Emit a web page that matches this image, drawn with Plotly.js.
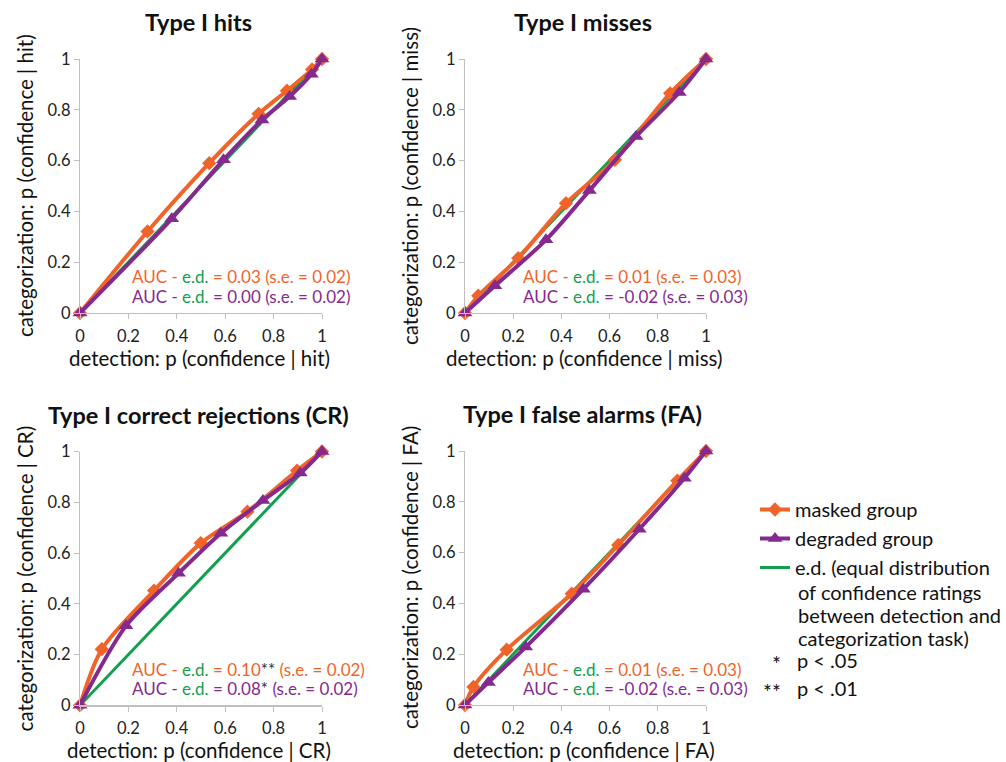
<!DOCTYPE html>
<html><head><meta charset="utf-8">
<script src="https://cdn.plot.ly/plotly-3.0.1.min.js"></script>
<style>body{margin:0;background:#fff}#chart{width:1006px;height:762px}</style>
</head><body><div id="chart"></div>
<script>
// ---- data ----
const hitsMaskedX = [0, 0.279, 0.534, 0.738, 0.855, 0.959, 1];
const hitsMaskedY = [0, 0.321, 0.590, 0.784, 0.875, 0.959, 1];
const hitsDegrX   = [0, 0.379, 0.593, 0.752, 0.866, 0.956, 1];
const hitsDegrY   = [0, 0.371, 0.603, 0.760, 0.852, 0.940, 1];

const missMaskedX = [0, 0.055, 0.221, 0.419, 0.622, 0.851, 1];
const missMaskedY = [0, 0.068, 0.216, 0.432, 0.603, 0.865, 1];
const missDegrX   = [0, 0.124, 0.336, 0.516, 0.710, 0.889, 1];
const missDegrY   = [0, 0.107, 0.288, 0.482, 0.695, 0.868, 1];

const crMaskedX = [0, 0.090, 0.306, 0.499, 0.692, 0.897, 1];
const crMaskedY = [0, 0.221, 0.452, 0.639, 0.763, 0.925, 1];
const crDegrX   = [0, 0.190, 0.407, 0.582, 0.756, 0.910, 1];
const crDegrY   = [0, 0.313, 0.520, 0.678, 0.807, 0.915, 1];

const faMaskedX = [0, 0.035, 0.173, 0.443, 0.636, 0.881, 1];
const faMaskedY = [0, 0.071, 0.218, 0.438, 0.630, 0.883, 1];
const faDegrX   = [0, 0.097, 0.252, 0.491, 0.723, 0.910, 1];
const faDegrY   = [0, 0.089, 0.228, 0.456, 0.692, 0.893, 1];

const edX = [0, 1];
const edY = [0, 1];

const panelTitles = ["Type I hits", "Type I misses", "Type I correct rejections (CR)", "Type I false alarms (FA)"];
const panelKeys = ["hit", "miss", "CR", "FA"];
const aucMasked = ["0.03", "0.01", "0.10**", "0.01"];
const aucDegr   = ["0.00", "-0.02", "0.08*", "-0.02"];
const seMasked  = ["0.02", "0.03", "0.02", "0.03"];
const seDegr    = ["0.02", "0.03", "0.02", "0.03"];
const tickVals = [0, 0.2, 0.4, 0.6, 0.8, 1];
const tickText = ["0", "0.2", "0.4", "0.6", "0.8", "1"];
const legendNames = ["masked group", "degraded group", "e.d. (equal distribution"];
const legendExtraLines = ["of confidence ratings", "between detection and", "categorization task)"];
const sigStars = ["*", "**"];
const sigLabels = ["p < .05", "p < .01"];

// ---- style ----
const ORANGE = "#F0642A", PURPLE = "#85298F", GREEN = "#12A04E";
const FONT = "Lato, 'Open Sans', sans-serif";
const W = 1006, H = 762;
const AX_FS = 20.5, TICK_FS = 16.5, AUC_FS = 17, TITLE_FS = 23.5, LEG_FS = 20;

const series = [
  [hitsMaskedX, hitsMaskedY, hitsDegrX, hitsDegrY],
  [missMaskedX, missMaskedY, missDegrX, missDegrY],
  [crMaskedX, crMaskedY, crDegrX, crDegrY],
  [faMaskedX, faMaskedY, faDegrX, faDegrY]
];
// panel pixel boxes [left, right, top, bottom]
const boxes = [[80, 322, 59, 313], [465, 706, 59, 313], [80, 322, 451.5, 705.3], [465, 706, 451, 705]];

const traces = [];
const layout = {
  width: W, height: H,
  margin: {l: 0, r: 0, t: 0, b: 0},
  paper_bgcolor: "#fff", plot_bgcolor: "#fff",
  font: {family: FONT, size: 15, color: "#222"},
  showlegend: true,
  legend: {
    x: 755 / W, y: 1 - 490 / H, xanchor: "left", yanchor: "top",
    font: {family: FONT, size: LEG_FS, color: "#111"},
    valign: "top", bgcolor: "rgba(0,0,0,0)", tracegroupgap: 0
  },
  annotations: [], shapes: []
};

function colorize(val, se, col) {
  let v = val.replace(/(\*+)/, "<span style='color:#333'>$1</span>");
  return "<span style='color:" + col + "'>AUC - </span><span style='color:" + GREEN + "'>e.d.</span>" +
         "<span style='color:" + col + "'> = " + v + " (s.e. = " + se + ")</span>";
}

for (let i = 0; i < 4; i++) {
  const n = i + 1;
  const xa = n === 1 ? "x" : "x" + n, ya = n === 1 ? "y" : "y" + n;
  const b = boxes[i];
  const s = series[i];
  traces.push({x: edX, y: edY, xaxis: xa, yaxis: ya, mode: "lines", type: "scatter",
    line: {color: GREEN, width: 3}, name: legendNames[2],
    showlegend: i === 0, legendrank: 3, hoverinfo: "skip", cliponaxis: false});
  traces.push({x: s[0], y: s[1], xaxis: xa, yaxis: ya, mode: "lines+markers", type: "scatter",
    line: {color: ORANGE, width: 4, shape: "spline", smoothing: 0.8},
    marker: {symbol: "diamond", size: 11, color: ORANGE},
    name: legendNames[0], showlegend: i === 0, legendrank: 1, cliponaxis: false});
  traces.push({x: s[2], y: s[3], xaxis: xa, yaxis: ya, mode: "lines+markers", type: "scatter",
    line: {color: PURPLE, width: 4, shape: "spline", smoothing: 0.8},
    marker: {symbol: "triangle-up", size: 13, color: PURPLE},
    name: legendNames[1], showlegend: i === 0, legendrank: 2, cliponaxis: false});

  const axCommon = {
    range: [0, 1], tickvals: tickVals, ticktext: tickText, ticks: "outside", ticklen: 5,
    tickcolor: "#BFBFBF", showline: true, linecolor: "#BFBFBF", linewidth: 1.2,
    showgrid: false, zeroline: false, fixedrange: true,
    tickfont: {family: FONT, size: TICK_FS, color: "#222"}
  };
  layout[n === 1 ? "xaxis" : "xaxis" + n] = Object.assign({}, axCommon, {
    domain: [b[0] / W, b[1] / W], anchor: ya, ticklabelstandoff: 3
  });
  layout[n === 1 ? "yaxis" : "yaxis" + n] = Object.assign({}, axCommon, {
    domain: [1 - b[3] / H, 1 - b[2] / H], anchor: xa
  });

  const cx = (b[0] + b[1]) / 2;
  const cy = (b[2] + b[3]) / 2;
  layout.annotations.push({xref: "paper", yref: "paper", x: (cx - 3) / W, y: 1 - (b[2] - 37) / H,
    text: "<b>" + panelTitles[i] + "</b>", showarrow: false, xanchor: "center", yanchor: "middle",
    font: {family: FONT, size: TITLE_FS, color: "#111"}});
  layout.annotations.push({xref: "paper", yref: "paper", x: (cx - 2) / W, y: 1 - (b[3] + 45) / H,
    text: "detection: p (confidence | " + panelKeys[i] + ")", showarrow: false,
    xanchor: "center", yanchor: "middle", font: {family: FONT, size: AX_FS, color: "#111"}});
  layout.annotations.push({xref: "paper", yref: "paper", x: (b[0] - 55) / W, y: 1 - cy / H,
    text: "categorization: p (confidence | " + panelKeys[i] + ")", showarrow: false, textangle: -90,
    xanchor: "center", yanchor: "middle", font: {family: FONT, size: AX_FS, color: "#111"}});
  const ax0 = b[0] + 50 + (i % 2 ? 6 : 0);
  layout.annotations.push({xref: "paper", yref: "paper", x: ax0 / W, y: 1 - (b[3] - 36) / H,
    text: colorize(aucMasked[i], seMasked[i], ORANGE), showarrow: false, xanchor: "left", yanchor: "middle",
    font: {family: FONT, size: AUC_FS}});
  layout.annotations.push({xref: "paper", yref: "paper", x: ax0 / W, y: 1 - (b[3] - 17) / H,
    text: colorize(aucDegr[i], seDegr[i], PURPLE), showarrow: false, xanchor: "left", yanchor: "middle",
    font: {family: FONT, size: AUC_FS}});
}

// extra lines of the e.d. legend entry
legendExtraLines.forEach((t, k) => {
  layout.annotations.push({xref: "paper", yref: "paper", x: 796 / W, y: 1 - (592 + 23 * k) / H, text: t,
    showarrow: false, xanchor: "left", yanchor: "middle", font: {family: FONT, size: LEG_FS, color: "#111"}});
});

// significance key
sigStars.forEach((st, k) => {
  const yy = 660 + 28 * k;
  layout.annotations.push({xref: "paper", yref: "paper", x: 783 / W, y: 1 - (yy + 3) / H, text: st,
    showarrow: false, xanchor: "right", yanchor: "middle", font: {family: FONT, size: 21, color: "#111"}});
  layout.annotations.push({xref: "paper", yref: "paper", x: 795 / W, y: 1 - yy / H, text: sigLabels[k],
    showarrow: false, xanchor: "left", yanchor: "middle", font: {family: FONT, size: LEG_FS, color: "#111"}});
});

Plotly.newPlot("chart", traces, layout, {staticPlot: true});
</script>
</body></html>
